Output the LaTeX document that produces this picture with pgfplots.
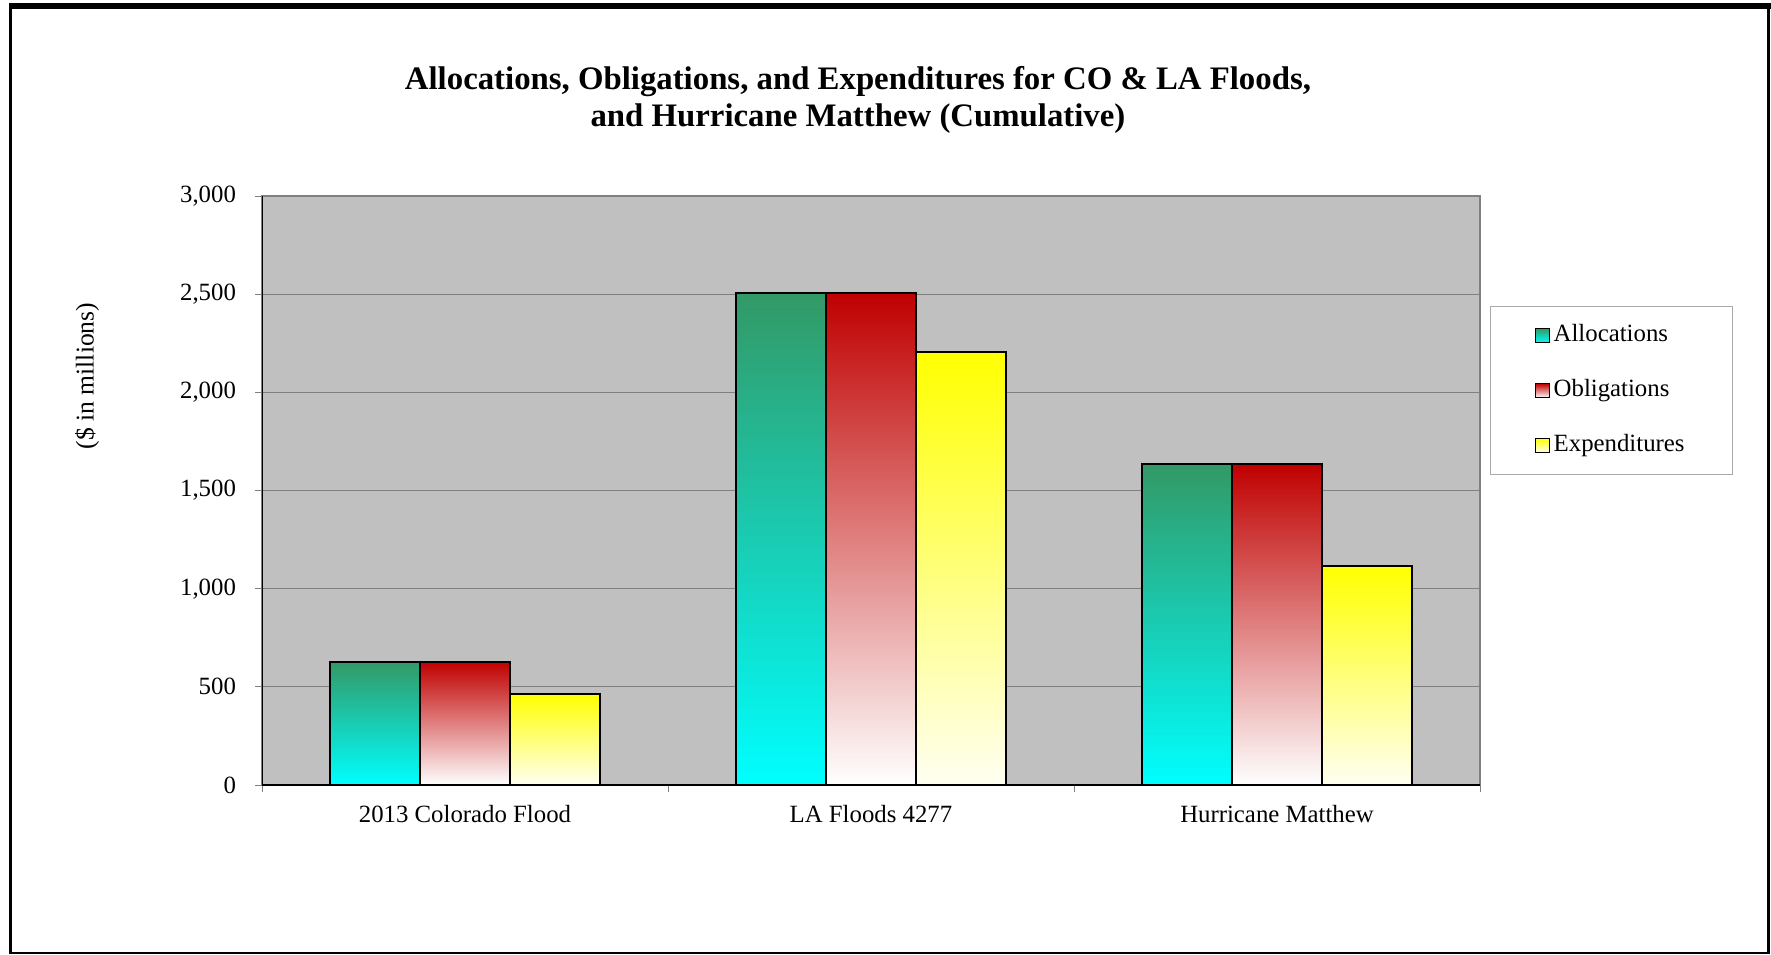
\documentclass[border=0pt]{standalone}
\usepackage{fontspec}
\setmainfont{Liberation Serif}
\usepackage{pgfplots}
\pgfplotsset{compat=1.18}

\definecolor{allocTop}{RGB}{51,153,102}
\definecolor{allocBot}{RGB}{0,255,255}
\definecolor{oblTop}{RGB}{192,0,0}
\definecolor{oblBot}{RGB}{255,255,255}
\definecolor{expTop}{RGB}{255,255,0}
\definecolor{expBot}{RGB}{255,255,242}
\definecolor{plotbg}{RGB}{192,192,192}
\definecolor{gridgray}{RGB}{128,128,128}
\definecolor{legendgray}{RGB}{170,170,170}

% each bar is its own plot so the gradient runs over that bar only
\pgfplotsset{
  allocbar/.style={top color=allocTop, bottom color=allocBot, bar shift=-0.222},
  oblbar/.style={top color=oblTop, bottom color=oblBot, bar shift=0},
  expbar/.style={top color=expTop, bottom color=expBot, bar shift=0.222},
}

\begin{document}
\begin{tikzpicture}
\useasboundingbox (0,0) rectangle (885.5pt,477pt);
\begin{axis}[
  scale only axis,
  width=609pt, height=294.5pt,
  at={(131pt,84.5pt)}, anchor=south west,
  font=\fontsize{12.4}{14.5}\selectfont,
  axis background/.style={fill=plotbg},
  axis line style={draw=gridgray, line width=1pt},
  xmin=-0.5, xmax=2.5,
  ymin=0, ymax=3000,
  ytick={0,500,...,3000},
  ymajorgrids,
  major grid style={draw=gridgray, line width=0.6pt},
  /pgf/number format/1000 sep={,},
  /pgf/number format/assume math mode=true,
  tick pos=left,
  tick align=outside,
  major tick length=3.5pt,
  minor tick length=3.5pt,
  ytick style={draw=gridgray, line width=0.5pt},
  xtick={0,1,2},
  xticklabels={2013 Colorado Flood, LA Floods 4277, Hurricane Matthew},
  minor xtick={-0.5,0.5,1.5,2.5},
  major x tick style={draw=none},
  minor x tick style={draw=gridgray, line width=0.5pt},
  xticklabel style={anchor=base, yshift=-15pt},
  yticklabel style={xshift=-6pt},
  title={Allocations, Obligations, and Expenditures for CO \& LA Floods,\\and Hurricane Matthew (Cumulative)},
  title style={font=\fontsize{16.4}{18.5}\selectfont\bfseries, align=center,
    at={(rel axis cs:0.4893,1.1424)}, anchor=center},
  ylabel={(\$ in millions)},
  every axis y label/.style={at={(rel axis cs:-0.1437,0.6944)}, rotate=90, anchor=center,
    font=\fontsize{12.8}{15}\selectfont},
  legend style={at={(rel axis cs:1.0082,0.813)}, anchor=north west,
    draw=legendgray, line width=0.5pt, fill=white,
    inner xsep=22pt, inner ysep=6.5pt, row sep=11.5pt,
    nodes={inner sep=2pt, text height=9pt, text depth=3pt},
    font=\fontsize{12.4}{14.5}\selectfont},
  legend cell align=left,
  legend image code/.code={\draw[#1, line width=0.6pt] (0pt,-3.5pt) rectangle (7pt,3.5pt);},
  every axis plot/.append style={ybar, bar width=0.222, draw=black, line width=1pt},
]
% 2013 Colorado Flood (carries the legend)
\addplot[allocbar] coordinates {(0,628)};
\addlegendentry{Allocations}
\addplot[oblbar] coordinates {(0,628)};
\addlegendentry{Obligations}
\addplot[expbar] coordinates {(0,463)};
\addlegendentry{Expenditures}
% LA Floods 4277
\addplot[allocbar, forget plot] coordinates {(1,2505)};
\addplot[oblbar, forget plot] coordinates {(1,2505)};
\addplot[expbar, forget plot] coordinates {(1,2205)};
% Hurricane Matthew
\addplot[allocbar, forget plot] coordinates {(2,1634)};
\addplot[oblbar, forget plot] coordinates {(2,1634)};
\addplot[expbar, forget plot] coordinates {(2,1117)};
\draw[black, line width=0.8pt] (rel axis cs:0,1) -- (rel axis cs:0,0) -- (rel axis cs:1,0);
\end{axis}
% outer frame
\draw[black, line width=1.5pt] (5.25pt,0) -- (5.25pt,474pt);
\draw[black, line width=1.5pt] (884.25pt,0) -- (884.25pt,474pt);
\draw[black, line width=1pt] (5pt,0.5pt) -- (885pt,0.5pt);
\draw[black, line width=3pt] (4.5pt,473.9pt) -- (885.5pt,473.9pt);
\end{tikzpicture}
\end{document}
